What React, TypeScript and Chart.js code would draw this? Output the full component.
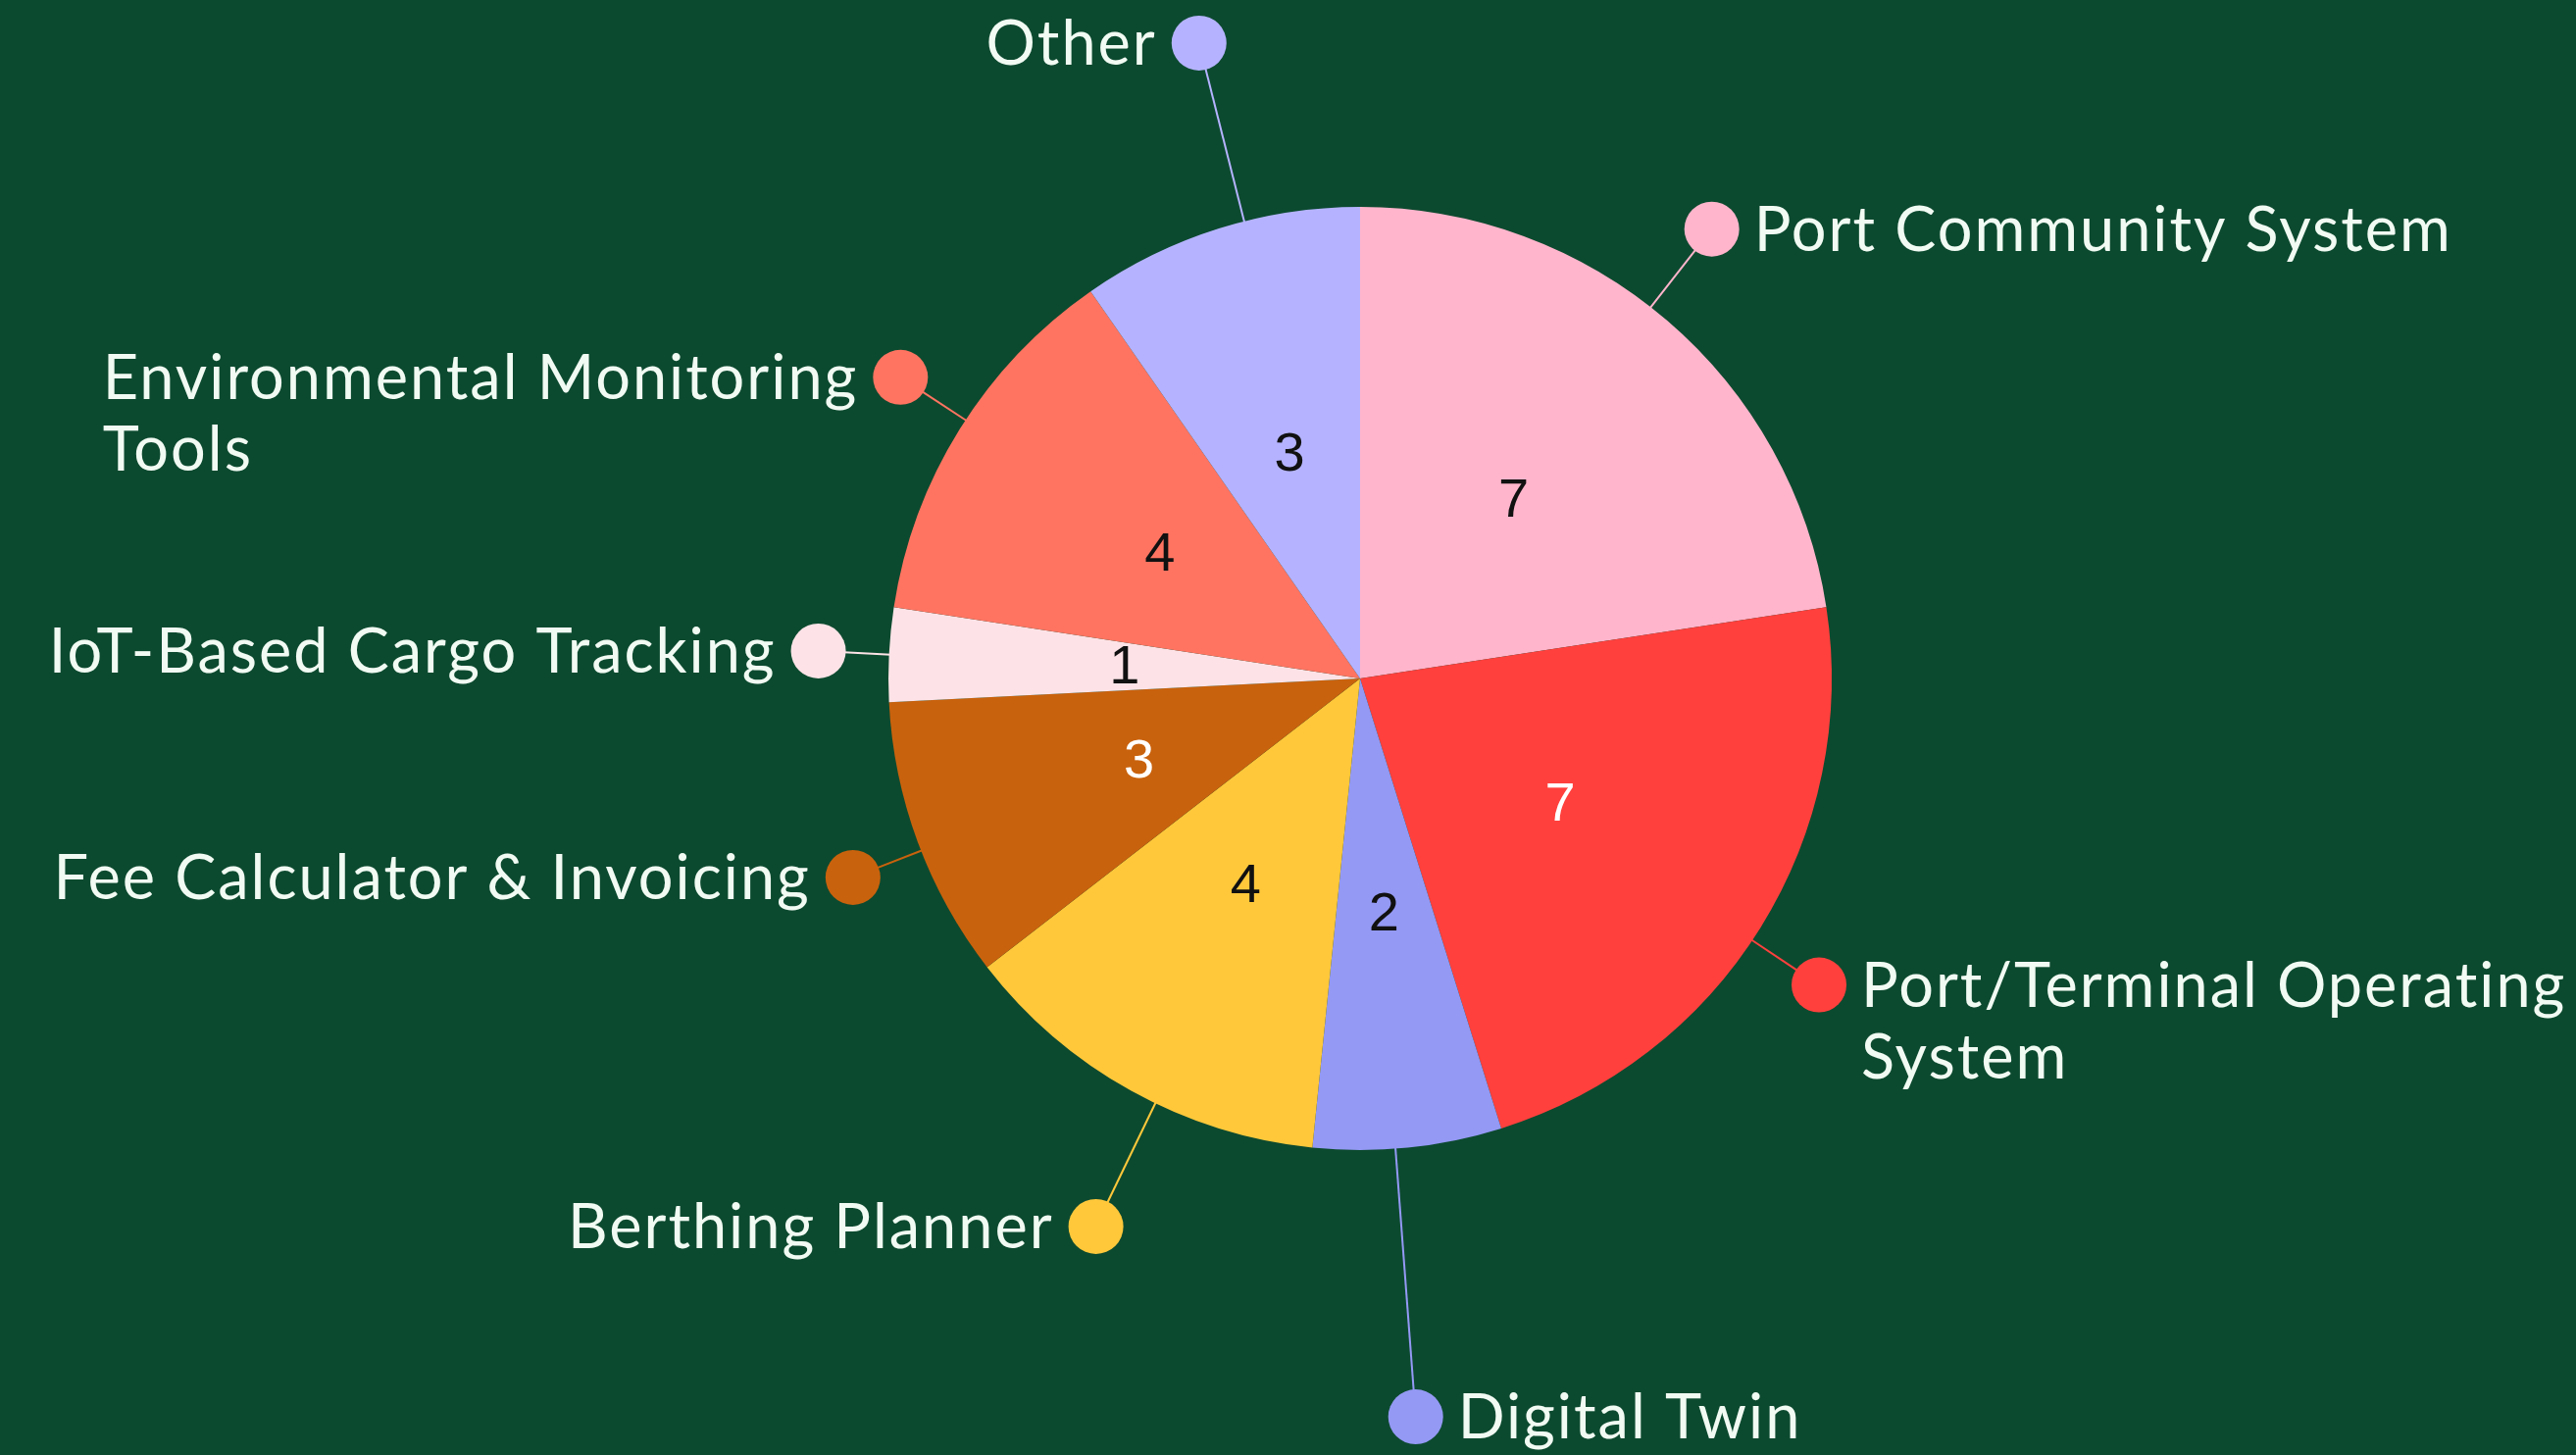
import React, { useEffect, useRef } from "react";
import { Chart, registerables } from "chart.js";

Chart.register(...registerables);

const CATEGORIES = [
  "Port Community System",
  "Port/Terminal Operating System",
  "Digital Twin",
  "Berthing Planner",
  "Fee Calculator & Invoicing",
  "IoT-Based Cargo Tracking",
  "Environmental Monitoring Tools",
  "Other",
];
const LABEL_LINES = [
  ["Port Community System"],
  ["Port/Terminal Operating", "System"],
  ["Digital Twin"],
  ["Berthing Planner"],
  ["Fee Calculator & Invoicing"],
  ["IoT-Based Cargo Tracking"],
  ["Environmental Monitoring", "Tools"],
  ["Other"],
];
const VALUES = [7, 7, 2, 4, 3, 1, 4, 3];
const COLORS = ["#FFB5CC", "#FF403D", "#9499F4", "#FFC83B", "#C9620D", "#FDE3E7", "#FF7461", "#B5B3FF"];
const VALUE_TEXT_COLORS = ["#111111", "#FFFFFF", "#111111", "#111111", "#FFFFFF", "#111111", "#111111", "#111111"];
// label layout: angle nudge (deg) and distance of the dot (x radius)
const LABEL_NUDGE = [-2.6, 1.8, 1.5, -3.3, -1.1, 0, 1.3, 3.2];
const LABEL_DIST = [1.21, 1.17, 1.57, 1.29, 1.155, 1.15, 1.165, 1.39];

const BG = "#0C4A2F";
const TEXT = "#F1FAF3";

const labelPlugin = {
  id: "customLabels",
  beforeDraw(chart: any) {
    const ctx = chart.ctx;
    ctx.save();
    ctx.fillStyle = BG;
    ctx.fillRect(0, 0, chart.width, chart.height);
    ctx.restore();
  },
  afterDraw(chart: any) {
    const ctx = chart.ctx;
    const meta = chart.getDatasetMeta(0);
    meta.data.forEach((arc: any, i: number) => {
      const { x, y, startAngle, endAngle, outerRadius } = arc.getProps(
        ["x", "y", "startAngle", "endAngle", "outerRadius"],
        true
      );
      const mid = (startAngle + endAngle) / 2;
      // value label
      ctx.save();
      ctx.font = "56px 'Liberation Sans', Arial, sans-serif";
      ctx.fillStyle = VALUE_TEXT_COLORS[i];
      ctx.textAlign = "center";
      ctx.textBaseline = "middle";
      ctx.fillText(String(VALUES[i]), x + Math.cos(mid) * outerRadius * 0.5, y + Math.sin(mid) * outerRadius * 0.5 + 2);
      ctx.restore();

      // outer label
      const a = mid + (LABEL_NUDGE[i] * Math.PI) / 180;
      const dotR = 28;
      const d = outerRadius * LABEL_DIST[i];
      const dx = x + Math.cos(a) * d;
      const dy = y + Math.sin(a) * d;
      ctx.save();
      ctx.strokeStyle = COLORS[i];
      ctx.lineWidth = 2;
      ctx.beginPath();
      ctx.moveTo(x + Math.cos(a) * (outerRadius - 2), y + Math.sin(a) * (outerRadius - 2));
      ctx.lineTo(x + Math.cos(a) * (d - dotR + 2), y + Math.sin(a) * (d - dotR + 2));
      ctx.stroke();
      ctx.fillStyle = COLORS[i];
      ctx.beginPath();
      ctx.arc(dx, dy, dotR, 0, Math.PI * 2);
      ctx.fill();

      ctx.font = "63px Lato, 'Open Sans', sans-serif";
      (ctx as any).letterSpacing = "2px";
      ctx.fillStyle = TEXT;
      ctx.textAlign = "left";
      ctx.textBaseline = "alphabetic";
      const lines = LABEL_LINES[i];
      const widths = lines.map((l) => ctx.measureText(l).width);
      const maxW = Math.max(...widths);
      const gap = 15;
      const right = Math.cos(a) >= 0;
      const tx = right ? dx + dotR + gap : dx - dotR - gap - maxW;
      const lineH = 73;
      lines.forEach((l, k) => {
        ctx.fillText(l, tx, dy + 22 + k * lineH);
      });
      ctx.restore();
    });
  },
};

export default function App() {
  const ref = useRef<HTMLCanvasElement | null>(null);
  useEffect(() => {
    document.body.style.margin = "0";
    document.body.style.background = BG;
    const canvas = ref.current!;
    const chart = new Chart(canvas, {
      type: "pie",
      data: {
        labels: CATEGORIES,
        datasets: [
          {
            data: VALUES,
            backgroundColor: COLORS,
            borderWidth: 0,
          },
        ],
      },
      options: {
        responsive: false,
        animation: false,
        devicePixelRatio: 1,
        layout: { padding: { left: 906, right: 759, top: 211, bottom: 311 } },
        plugins: {
          legend: { display: false },
          tooltip: { enabled: false },
        },
        events: [],
      },
      plugins: [labelPlugin],
    });
    return () => chart.destroy();
  }, []);
  return (
    <div style={{ width: 2627, height: 1484, background: BG }}>
      <canvas ref={ref} width={2627} height={1484} style={{ display: "block" }} />
    </div>
  );
}
